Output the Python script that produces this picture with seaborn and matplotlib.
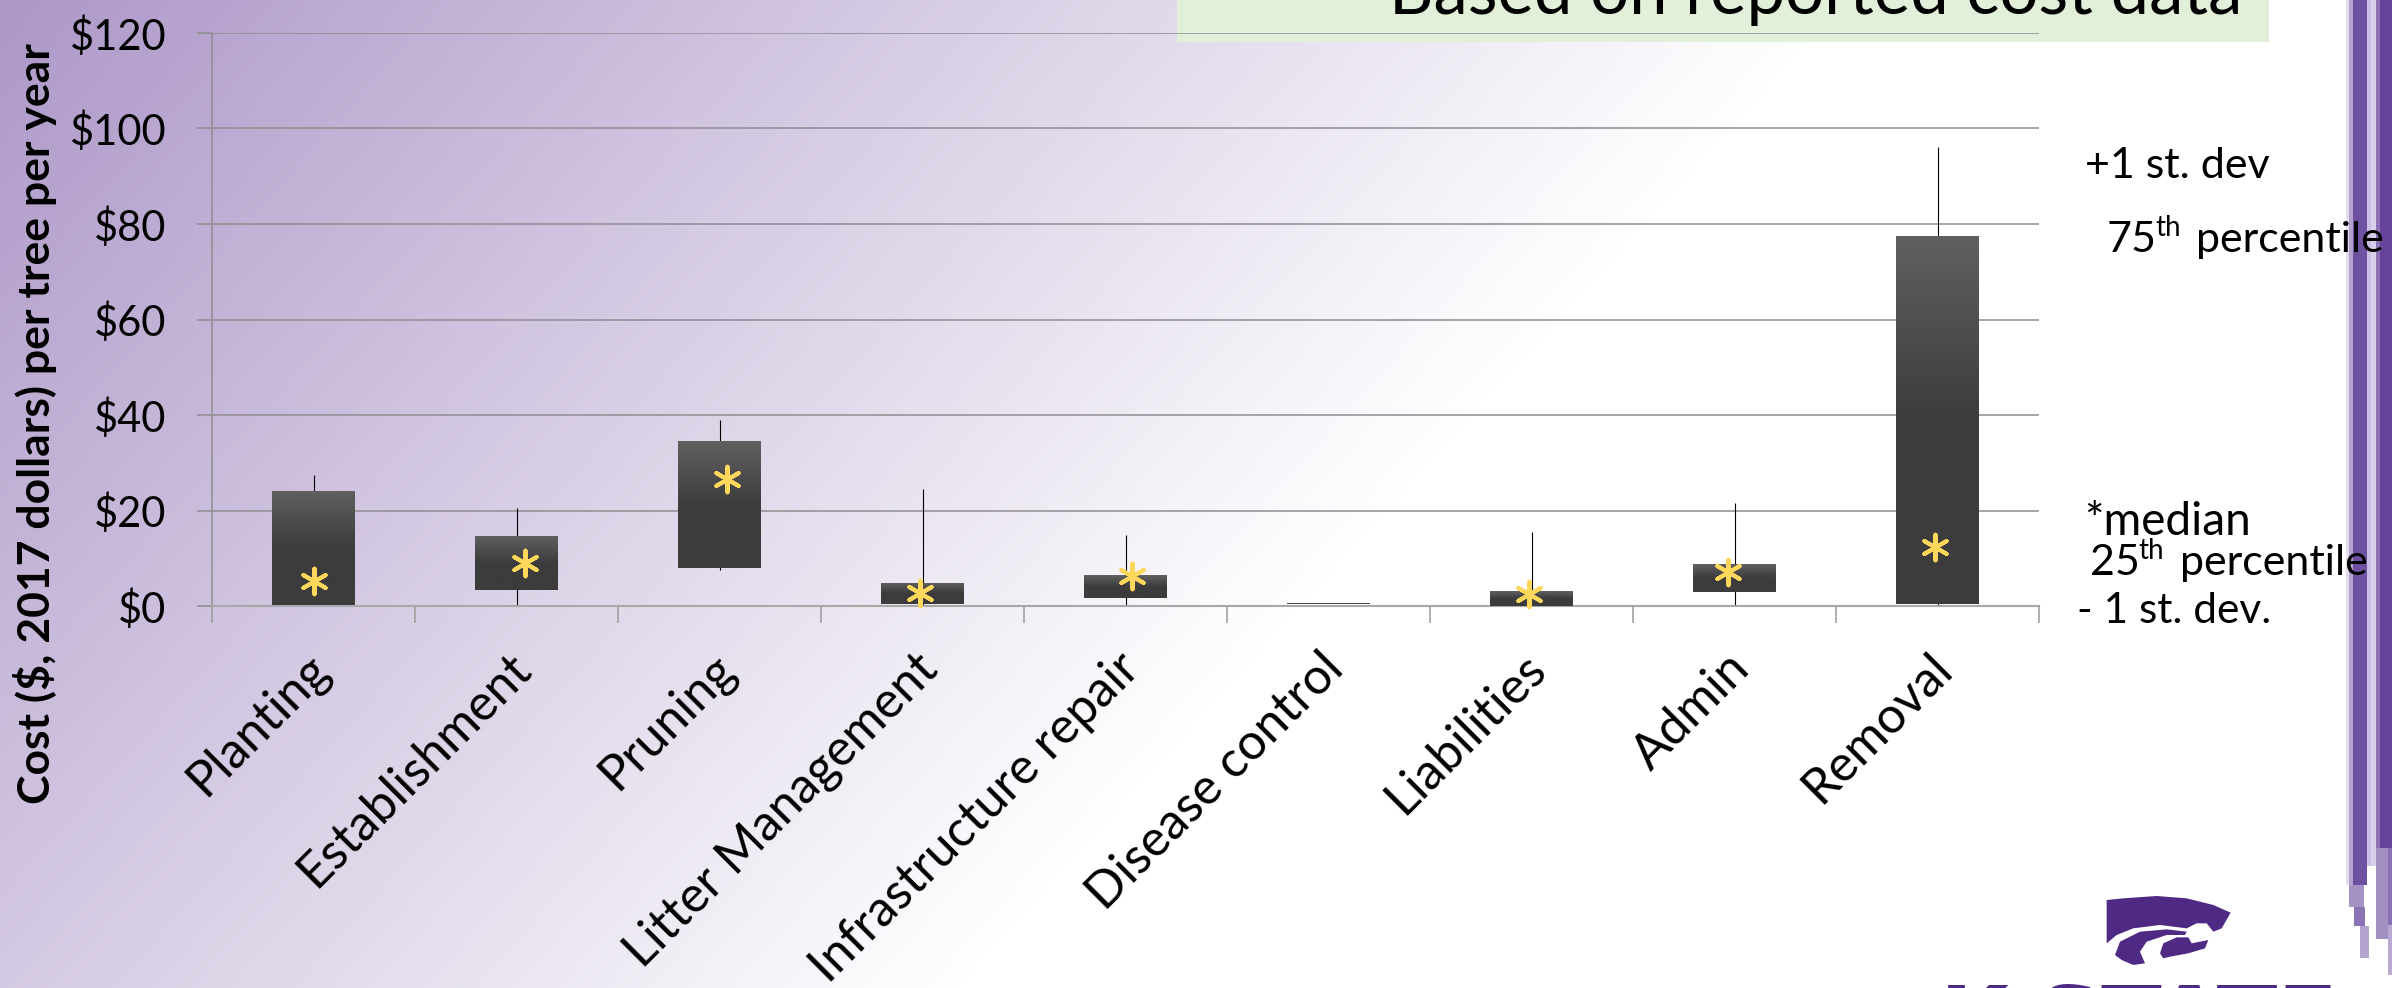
import numpy as np
import pandas as pd
import matplotlib
matplotlib.use("Agg")
import matplotlib.pyplot as plt
from matplotlib.colors import LinearSegmentedColormap, to_rgb
from matplotlib.patches import Polygon, Rectangle
from matplotlib.transforms import ScaledTranslation
import seaborn as sns

# Annual cost per tree, in 2017 dollars
categories = ["Planting", "Establishment", "Pruning", "Litter Management",
              "Infrastructure repair", "Disease control", "Liabilities",
              "Admin", "Removal"]
q25 = [0.2, 3.4, 8.0, 0.4, 1.7, 0.42, 0.0, 3.0, 0.4]
q75 = [24.1, 14.6, 34.5, 4.8, 6.5, 0.6, 3.1, 8.7, 77.4]
medians = [5.2, 9.0, 26.5, 2.7, 6.3, 0.5, 2.5, 7.1, 12.3]
sd_low = [0.0, 0.0, 7.5, 0.0, 0.0, 0.5, 0.0, 0.0, 0.0]
sd_high = [27.4, 20.5, 38.9, 24.4, 14.85, 0.5, 15.6, 21.5, 96.2]
y_ticks = [0, 20, 40, 60, 80, 100, 120]

W, H = 2392, 988
FONT = "Lato"
SIZE = 30

sns.set_theme(style="white")
plt.rcParams["font.family"] = [FONT, "DejaVu Sans"]

fig = plt.figure(figsize=(W / 100, H / 100), dpi=100)

# Slide backdrop in pixel coordinates
bg = fig.add_axes([0, 0, 1, 1], zorder=0)
bg.set_axis_off()
xx, yy = np.meshgrid(np.arange(W), np.arange(H))
t = np.clip((xx + 0.9 * yy) / 1850.0, 0, 1)
wash = LinearSegmentedColormap.from_list("wash", ["#ad98c8", "#ffffff"])
bg.imshow(t, cmap=wash, vmin=0, vmax=1, extent=(0, W, H, 0), aspect="auto",
          interpolation="bilinear", zorder=0)
bg.add_patch(Rectangle((1177, 0), 1092, 42, color="#e2efd9", lw=0, zorder=1))


def band(x0, x1, y0, y1, colour):
    bg.add_patch(Rectangle((x0, y0), x1 - x0, y1 - y0, color=colour, lw=0, zorder=1))


# Vertical stripes on the right edge
band(2346, 2349, 0, 885, "#e4dcef")
band(2349, 2353, 0, 885, "#b3a1cf")
band(2353, 2367, 0, 885, "#6f51a1")
band(2367, 2371, 0, 866, "#cdbfe3")
band(2371, 2376, 0, 866, "#d9cfea")
band(2376, 2380, 0, 848, "#8c72b4")
band(2380, 2392, 0, 848, "#66439a")
band(2349, 2364, 885, 907, "#a593c6")
band(2354, 2365, 907, 926, "#8b74b4")
band(2360, 2369, 926, 958, "#b3a5cf")
band(2376, 2388, 848, 939, "#a391c4")
band(2388, 2392, 848, 925, "#8a70b4")
band(2388, 2392, 925, 975, "#b8a8d2")

# Wildcat mark, traced as three polygons in pixel coordinates
purple = "#4f2a85"


def logo_piece(points):
    pts = [(2000 + px / 3, 860 + py / 3) for px, py in points]
    bg.add_patch(Polygon(pts, closed=True, color=purple, lw=0, zorder=2))


logo_piece([(320, 120), (370, 115), (470, 108), (560, 115), (640, 135), (692, 158),
            (665, 205), (640, 215), (620, 190), (590, 190), (560, 205), (480, 195),
            (400, 205), (350, 225), (320, 250)])
logo_piece([(345, 285), (360, 245), (420, 215), (500, 208), (560, 215), (555, 225),
            (500, 225), (440, 245), (420, 275), (435, 310), (400, 315), (365, 300)])
logo_piece([(480, 280), (490, 250), (530, 232), (565, 232), (575, 250), (625, 240),
            (615, 265), (565, 280), (510, 290), (490, 295)])
bg.text(1940, 1050, "K-STATE", fontsize=64, fontweight="bold", color=purple,
        family="DejaVu Sans", va="baseline", zorder=2)

bg.text(1389, 14, "Based on reported cost data", fontsize=49.6, color="black",
        va="baseline", zorder=3)


def note(x, y, s, size=31):
    bg.text(x, y, s, fontsize=size, color="black", va="baseline", zorder=3)


# Key beside the plot
note(2085, 178, "+1 st. dev")
note(2107, 252, "75")
note(2155, 236, "th", size=20)
note(2196, 252, "percentile")
note(2084, 535, "*median", size=33)
note(2090, 575, "25")
note(2138, 559, "th", size=20)
note(2180, 575, "percentile")
note(2077, 623, "- 1 st. dev.", size=30.5)
bg.text(35, 424, "Cost ($, 2017 dollars) per tree per year", fontsize=32,
        fontweight="bold", rotation=90, ha="center", va="center", color="black",
        zorder=3)
bg.set_xlim(0, W)
bg.set_ylim(H, 0)

# Chart area
ax = fig.add_axes([212 / W, 1 - 606 / H, 1827 / W, 573 / H], zorder=1)
ax.patch.set_alpha(0)

positions = np.arange(len(categories))
table = pd.DataFrame({"pos": positions, "low": q25, "high": q75, "median": medians,
                      "sd_low": sd_low, "sd_high": sd_high})
table["height"] = table["high"] - table["low"]

ax.set_axisbelow(True)
ax.yaxis.grid(True, color="#8f8d92", lw=1.1)
ax.xaxis.grid(False)

shown = table["sd_high"] > table["sd_low"]
ax.vlines(table.loc[shown, "pos"], table.loc[shown, "sd_low"], table.loc[shown, "sd_high"],
          color="black", lw=0.8, zorder=2)

sns.barplot(data=table, x="pos", y="height", bottom=table["low"], native_scale=True,
            width=0.404, color="#3c3c3c", saturation=1, linewidth=0, errorbar=None,
            ax=ax, zorder=3)

# Each box fades from mid grey at the top to dark grey halfway down
top_col = np.array(to_rgb("#606060"))
mid_col = np.array(to_rgb("#3c3c3c"))
frac = np.clip(np.linspace(0, 1, 128) / 0.5, 0, 1)[:, None]
shade = (top_col * (1 - frac) + mid_col * frac)[:, None, :]
for bar in ax.patches:
    x0, w = bar.get_x(), bar.get_width()
    y0, h = bar.get_y(), bar.get_height()
    im = ax.imshow(shade, extent=(x0, x0 + w, y0, y0 + h), origin="upper",
                   aspect="auto", zorder=4)
    im.set_clip_path(bar)

# Medians, nudged sideways where the markers sit off-centre
star_shift = [0, 0.04, 0.035, -0.01, 0.032, 0, -0.012, -0.03, -0.013]
stars = table[table["pos"] != 5]
sns.scatterplot(x=stars["pos"] + np.array(star_shift)[stars["pos"]], y=stars["median"],
                marker=(6, 2, 0), s=340, color="#ffd75a", edgecolor="#ffd75a",
                linewidth=2.9, ax=ax, zorder=5, clip_on=False, legend=False)

ax.set_xlim(-0.5, 8.5)
ax.set_ylim(0, 120)
ax.set_yticks(y_ticks)
ax.set_yticklabels([f"${v}" for v in y_ticks])
ax.set_xticks(positions)
ax.set_xticklabels(categories, rotation=45, ha="right", va="top", rotation_mode="anchor")
ax.set_xticks(np.arange(-0.5, 9), minor=True)
ax.set_xlabel("")
ax.set_ylabel("")
ax.tick_params(axis="y", length=10.8, width=1.1, color="#8f8d92", pad=22,
               labelsize=SIZE, labelcolor="black", left=True)
ax.tick_params(axis="x", which="major", length=0, pad=28, labelsize=36,
               labelcolor="black")
ax.tick_params(axis="x", which="minor", length=12, width=1.1, color="#9a9a9a", bottom=True)

# Slide the slanted category labels a little to the left of their ticks
label_shift = ScaledTranslation(-9 / 100, 0, fig.dpi_scale_trans)
for label in ax.get_xticklabels():
    label.set_transform(label.get_transform() + label_shift)

sns.despine(ax=ax, top=True, right=True)
ax.spines["left"].set_color("#8f8d92")
ax.spines["left"].set_linewidth(1.1)
ax.spines["bottom"].set_color("#a8a8a8")
ax.spines["bottom"].set_linewidth(1.5)

fig.savefig("out.png", dpi=100)
